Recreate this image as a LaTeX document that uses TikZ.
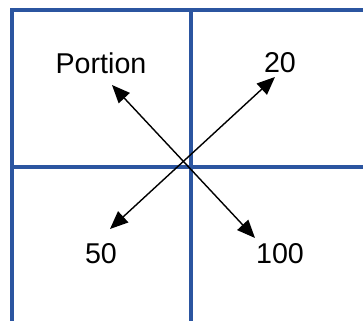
\documentclass[tikz,border=0pt]{standalone}
\usepackage{fontspec}
\setmainfont{Liberation Sans}
\usetikzlibrary{arrows.meta}
\definecolor{gridblue}{RGB}{43,85,160}

\begin{document}
\begin{tikzpicture}[
    grid line/.style={gridblue, line width=2.3pt},
    pointer/.style={{Triangle[length=0.36cm,width=0.3cm]}-{Triangle[length=0.36cm,width=0.3cm]}, line width=0.8pt},
    label/.style={font=\fontsize{16.3}{19}\selectfont, inner sep=0pt}
]
    \useasboundingbox (0,0) rectangle (7.26,6.42);
    % Grid
    \draw[grid line] (0.24,0) -- (0.24,6.22) -- (7.3,6.22);
    \draw[grid line] (3.82,0) -- (3.82,6.22);
    \draw[grid line] (0.24,3.08) -- (7.3,3.08);
    % Labels
    \node[label] (portion) at (2.02,5.16) {Portion};
    \node[label] (twenty) at (5.60,5.16) {20};
    \node[label] (fifty) at (2.02,1.34) {50};
    \node[label] (hundred) at (5.60,1.34) {100};
    % Arrow ends
    \coordinate (portion tip) at (2.24,4.72);
    \coordinate (hundred tip) at (5.10,1.66);
    \coordinate (twenty tip) at (5.50,4.88);
    \coordinate (fifty tip) at (2.20,1.84);
    \draw[pointer] (portion tip) -- (hundred tip);
    \draw[pointer] (fifty tip) -- (twenty tip);
\end{tikzpicture}
\end{document}
